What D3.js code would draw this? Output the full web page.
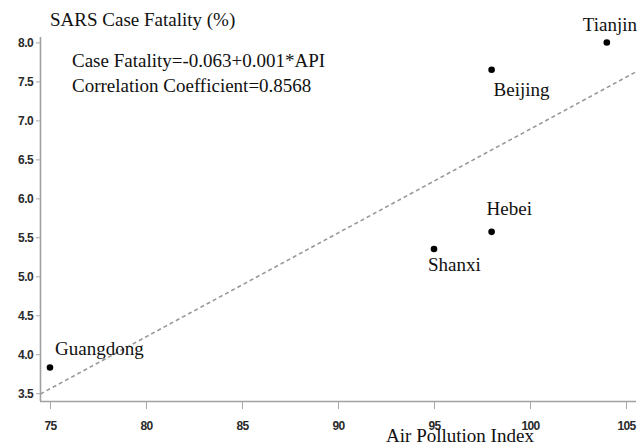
<!DOCTYPE html>
<html><head><meta charset="utf-8">
<script src="https://cdn.jsdelivr.net/npm/d3@7"></script>
<style>body{margin:0;background:#fff}</style>
</head><body>
<svg id="c" width="639" height="446"></svg>
<script>
const provinces = ["Guangdong","Shanxi","Hebei","Beijing","Tianjin"];
const api = [75, 95, 98, 98, 104];
const fatality = [3.83, 5.35, 5.57, 7.65, 8.0];
const trendX = [74.5, 105.5];
const trendY = [3.49, 7.62];
const xTicks = [75, 80, 85, 90, 95, 100, 105];
const yTicks = [3.5, 4.0, 4.5, 5.0, 5.5, 6.0, 6.5, 7.0, 7.5, 8.0];
const equationLines = ["Case Fatality=-0.063+0.001*API", "Correlation Coefficient=0.8568"];
// label offsets (layout only)
const labelDx = [5, -6, -5, 2, -24];
const labelDy = [-12, 22, -17, 26, -11];

const svg = d3.select("#c");
const x = d3.scaleLinear().domain([74.48, 105.52]).range([40, 636]);
const y = d3.scaleLinear().domain([3.40, 8.07]).range([401, 37]);
const serif = "'Liberation Serif','Times New Roman',serif";
const sans = "'Liberation Sans',Arial,sans-serif";

// axes
const xAxis = svg.append("g").attr("transform","translate(0,401)")
  .call(d3.axisBottom(x).tickValues(xTicks).tickSize(8).tickPadding(12).tickFormat(d3.format("d")));
const yAxis = svg.append("g").attr("transform","translate(40,0)")
  .call(d3.axisLeft(y).tickValues(yTicks).tickSize(4).tickPadding(3).tickFormat(d3.format(".1f")));
[xAxis, yAxis].forEach(g => {
  g.select(".domain").attr("stroke","#a0a0a0").attr("stroke-width",1.6);
  g.selectAll(".tick line").attr("stroke","#a8a8a8").attr("stroke-width",1);
  g.selectAll(".tick text").attr("fill","#2a2a2a").style("font-family",sans).style("font-size","12px")
    .style("font-weight","bold").style("letter-spacing","-0.6px");
});
xAxis.select(".domain").attr("d","M40,0.5H636");
yAxis.select(".domain").attr("d","M0.5,401V37");

// trend line
svg.append("line")
  .attr("x1",x(trendX[0])).attr("y1",y(trendY[0]))
  .attr("x2",x(trendX[1])).attr("y2",y(trendY[1]))
  .attr("stroke","#999").attr("stroke-width",1.6).attr("stroke-dasharray","4,3");

// points
svg.selectAll("circle.pt").data(provinces).enter().append("circle")
  .attr("cx",(d,i)=>x(api[i])).attr("cy",(d,i)=>y(fatality[i])).attr("r",3.3).attr("fill","#000");

svg.selectAll("text.lbl").data(provinces).enter().append("text")
  .attr("x",(d,i)=>x(api[i])+labelDx[i]).attr("y",(d,i)=>y(fatality[i])+labelDy[i])
  .style("font-family",serif).style("font-size","19px").attr("fill","#111").text(d=>d);

// titles
svg.append("text").attr("x",50).attr("y",26).style("font-family",serif).style("font-size","19px").attr("fill","#111").text("SARS Case Fatality (%)");
svg.selectAll("text.eq").data(equationLines).enter().append("text")
  .attr("x",72).attr("y",(d,i)=>67+i*25).style("font-family",serif).style("font-size","19px").attr("fill","#111").text(d=>d);
svg.append("text").attr("x",460).attr("y",442).attr("text-anchor","middle").style("font-family",serif).style("font-size","19px").attr("fill","#111").text("Air Pollution Index");
</script>
</body></html>
